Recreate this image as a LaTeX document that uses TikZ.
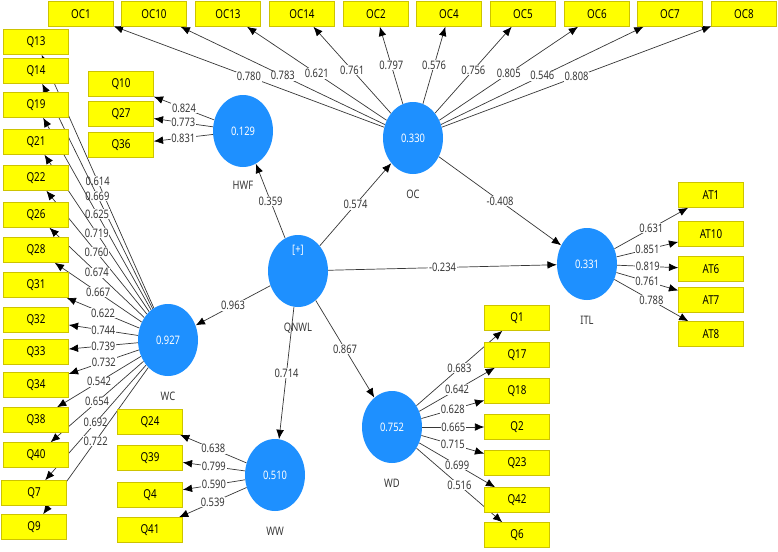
\documentclass[tikz,border=0pt]{standalone}
\usepackage{fontspec}
\setmainfont{Noto Sans}[FakeStretch=0.8]
\usepackage{xcolor}
\usepackage{tikz}
\usetikzlibrary{arrows.meta,positioning,shapes.geometric,backgrounds}

\definecolor{lvblue}{RGB}{30,144,255}
\definecolor{mvyellow}{RGB}{255,255,0}
\definecolor{mvedge}{RGB}{205,195,0}
\definecolor{pathgray}{RGB}{55,55,55}

\begin{document}
\begin{tikzpicture}[
  x=0.03cm, y=-0.03cm,
  latent/.style={ellipse, fill=lvblue, minimum width=1.8cm, minimum height=2.16cm, inner sep=0pt, text=white, font=\fontsize{10}{12}\selectfont},
  item/.style={draw=mvedge, fill=mvyellow, minimum width=1.95cm, minimum height=0.75cm, inner sep=0pt, font=\fontsize{10.5}{12}\selectfont},
  lname/.style={text=pathgray, font=\fontsize{10}{12}\selectfont},
  arrow/.style={-{Latex[length=2.8mm, width=2.3mm, color=black]}, draw=pathgray, line width=0.6pt},
  wt/.style={fill=white, inner sep=0.6pt, text=pathgray, font=\fontsize{10}{12}\selectfont},
]
\useasboundingbox (0,0) rectangle (778,551);

% latent variables
\node[latent] (hwf) at (243,131) {0.129};
\node[latent] (oc) at (413,138) {0.330};
\node[latent] (qnwl) at (298,271) {};
\node[latent] (itl) at (587,264) {0.331};
\node[latent] (wc) at (168,340) {0.927};
\node[latent] (ww) at (275,475) {0.510};
\node[latent] (wd) at (392,427) {0.752};
\node[text=white, font=\fontsize{10}{12}\selectfont] (qnwlplus) at (298,250) {[+]};

\node[lname, below=0.3cm of hwf] (hwfname) {HWF};
\node[lname, below=0.35cm of oc] (ocname) {OC};
\node[lname, below=0.35cm of qnwl] (qnwlname) {QNWL};
\node[lname, below=0.35cm of itl] (itlname) {ITL};
\node[lname, below=0.35cm of wc] (wcname) {WC};
\node[lname, below=0.35cm of ww] (wwname) {WW};
\node[lname, below=0.35cm of wd] (wdname) {WD};

% OC indicators
\node[item] (oc1) at (81,14) {OC1};
\node[item] (oc10) at (154,14) {OC10};
\node[item] (oc13) at (228,14) {OC13};
\node[item] (oc14) at (302,14) {OC14};
\node[item] (oc2) at (376,14) {OC2};
\node[item] (oc4) at (449,14) {OC4};
\node[item] (oc5) at (523,14) {OC5};
\node[item] (oc6) at (597,14) {OC6};
\node[item] (oc7) at (670,14) {OC7};
\node[item] (oc8) at (744,14) {OC8};

% WC indicators
\node[item] (q13) at (36,42) {Q13};
\node[item] (q14) at (36,71) {Q14};
\node[item] (q19) at (36,105) {Q19};
\node[item] (q21) at (36,142) {Q21};
\node[item] (q22) at (36,178) {Q22};
\node[item] (q26) at (36,215) {Q26};
\node[item] (q28) at (36,250) {Q28};
\node[item] (q31) at (36,285) {Q31};
\node[item] (q32) at (36,320) {Q32};
\node[item] (q33) at (36,352) {Q33};
\node[item] (q34) at (36,385) {Q34};
\node[item] (q38) at (36,420) {Q38};
\node[item] (q40) at (36,455) {Q40};
\node[item] (q7) at (34,493) {Q7};
\node[item] (q9) at (34,527) {Q9};

% HWF indicators
\node[item] (q10) at (121,84) {Q10};
\node[item] (q27) at (121,114) {Q27};
\node[item] (q36) at (121,145) {Q36};

% WW indicators
\node[item] (q24) at (150,422) {Q24};
\node[item] (q39) at (150,458) {Q39};
\node[item] (q4) at (150,495) {Q4};
\node[item] (q41) at (150,530) {Q41};

% WD indicators
\node[item] (q1) at (517,318) {Q1};
\node[item] (q17) at (517,355) {Q17};
\node[item] (q18) at (517,391) {Q18};
\node[item] (q2) at (517,427) {Q2};
\node[item] (q23) at (517,463) {Q23};
\node[item] (q42) at (517,500) {Q42};
\node[item] (q6) at (517,535) {Q6};

% ITL indicators
\node[item] (at1) at (711,195) {AT1};
\node[item] (at10) at (711,234) {AT10};
\node[item] (at6) at (711,269) {AT6};
\node[item] (at7) at (711,300) {AT7};
\node[item] (at8) at (711,334) {AT8};

\begin{scope}[on background layer]
% inner model
\draw[arrow] (qnwl) -- node[wt] {0.359} (hwf);
\draw[arrow] (qnwl) -- node[wt] {0.574} (oc);
\draw[arrow] (qnwl) -- node[wt] {-0.234} (itl);
\draw[arrow] (oc) -- node[wt] {-0.408} (itl);
\draw[arrow] (qnwl) -- node[wt] {0.963} (wc);
\draw[arrow] (qnwl) -- node[wt] {0.714} (ww);
\draw[arrow] (qnwl) -- node[wt] {0.867} (wd);

% outer model
\draw[arrow] (hwf) -- node[wt] {0.824} (q10);
\draw[arrow] (hwf) -- node[wt] {0.773} (q27);
\draw[arrow] (hwf) -- node[wt] {0.831} (q36);

\draw[arrow] (oc) -- node[wt] {0.780} (oc1);
\draw[arrow] (oc) -- node[wt] {0.783} (oc10);
\draw[arrow] (oc) -- node[wt] {0.621} (oc13);
\draw[arrow] (oc) -- node[wt] {0.761} (oc14);
\draw[arrow] (oc) -- node[wt] {0.797} (oc2);
\draw[arrow] (oc) -- node[wt] {0.576} (oc4);
\draw[arrow] (oc) -- node[wt] {0.756} (oc5);
\draw[arrow] (oc) -- node[wt] {0.805} (oc6);
\draw[arrow] (oc) -- node[wt] {0.546} (oc7);
\draw[arrow] (oc) -- node[wt] {0.808} (oc8);

\draw[arrow] (wc) -- node[wt] {0.614} (q13);
\draw[arrow] (wc) -- node[wt] {0.669} (q14);
\draw[arrow] (wc) -- node[wt] {0.625} (q19);
\draw[arrow] (wc) -- node[wt] {0.719} (q21);
\draw[arrow] (wc) -- node[wt] {0.760} (q22);
\draw[arrow] (wc) -- node[wt] {0.674} (q26);
\draw[arrow] (wc) -- node[wt] {0.667} (q28);
\draw[arrow] (wc) -- node[wt] {0.622} (q31);
\draw[arrow] (wc) -- node[wt] {0.744} (q32);
\draw[arrow] (wc) -- node[wt] {0.739} (q33);
\draw[arrow] (wc) -- node[wt] {0.732} (q34);
\draw[arrow] (wc) -- node[wt] {0.542} (q38);
\draw[arrow] (wc) -- node[wt] {0.654} (q40);
\draw[arrow] (wc) -- node[wt] {0.692} (q7);
\draw[arrow] (wc) -- node[wt] {0.722} (q9);

\draw[arrow] (ww) -- node[wt] {0.638} (q24);
\draw[arrow] (ww) -- node[wt] {0.799} (q39);
\draw[arrow] (ww) -- node[wt] {0.590} (q4);
\draw[arrow] (ww) -- node[wt] {0.539} (q41);

\draw[arrow] (wd) -- node[wt] {0.683} (q1);
\draw[arrow] (wd) -- node[wt] {0.642} (q17);
\draw[arrow] (wd) -- node[wt] {0.628} (q18);
\draw[arrow] (wd) -- node[wt] {0.665} (q2);
\draw[arrow] (wd) -- node[wt] {0.715} (q23);
\draw[arrow] (wd) -- node[wt] {0.699} (q42);
\draw[arrow] (wd) -- node[wt] {0.516} (q6);

\draw[arrow] (itl) -- node[wt] {0.631} (at1);
\draw[arrow] (itl) -- node[wt] {0.851} (at10);
\draw[arrow] (itl) -- node[wt] {0.819} (at6);
\draw[arrow] (itl) -- node[wt] {0.761} (at7);
\draw[arrow] (itl) -- node[wt] {0.788} (at8);
\end{scope}

\end{tikzpicture}
\end{document}
